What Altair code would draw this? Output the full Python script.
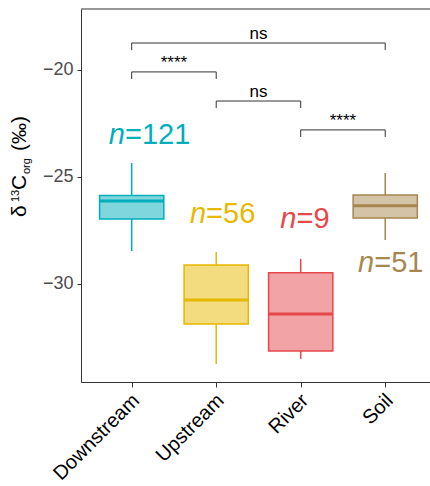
import json
import altair as alt
import pandas as pd

# ---- data ----
categories = ["Downstream", "Upstream", "River", "Soil"]
positions = [1, 2, 3, 4]
colors = ["#00AFBB", "#E7B800", "#E5474B", "#A7874F"]
whisker_low = [-28.46, -33.74, -33.50, -27.94]
q1 = [-26.96, -31.87, -33.13, -26.92]
median = [-26.12, -30.75, -31.40, -26.34]
q3 = [-25.87, -29.11, -29.47, -25.84]
whisker_high = [-24.35, -28.50, -28.83, -24.81]
counts = [121, 56, 9, 51]
n_label_x = [0.92, 1.88, 2.95, 3.87]
n_label_y = [-23.46, -27.15, -27.38, -29.44]

bracket_from = [1, 1, 2, 3]
bracket_to = [4, 2, 3, 4]
bracket_y = [-18.74, -20.09, -21.45, -22.80]
bracket_label = ["ns", "****", "ns", "****"]

y_ticks = [-30, -25, -20]

# ---- layout ----
W, H = 349, 373
FONT = "Liberation Sans"
half_box = 0.38
tip = 0.33

x_scale = alt.Scale(domain=[0.4, 4.53], nice=False, zero=False)
y_scale = alt.Scale(domain=[-34.58, -17.15], nice=False, zero=False)

x_axis = alt.Axis(
    values=positions,
    labelExpr=json.dumps(categories) + "[datum.value - 1]",
    labelAngle=-45, labelAlign="right", labelBaseline="top",
    labelFontSize=20, labelColor="black", labelPadding=3, labelOffset=-3,
    tickSize=5, tickColor="#333333", domainColor="#333333",
    grid=False, title=None,
)
y_axis = alt.Axis(
    values=y_ticks, labelFontSize=18, labelColor="#4D4D4D", labelPadding=4,
    tickSize=4, tickColor="#333333", domainColor="#333333",
    grid=False, title=None,
)


def X(field):
    return alt.X(field, type="quantitative", scale=x_scale, axis=x_axis, title=None)


def X2(field):
    return alt.X2(field)


def Y(field):
    return alt.Y(field, type="quantitative", scale=y_scale, axis=y_axis, title=None)


color_scale = alt.Scale(domain=categories, range=colors)
col = alt.Color("cat:N", scale=color_scale, legend=None)
fill = alt.Fill("cat:N", scale=color_scale, legend=None)
stroke = alt.Stroke("cat:N", scale=color_scale, legend=None)

box_df = pd.DataFrame({
    "cat": categories, "pos": positions, "lo": whisker_low, "q1": q1,
    "med": median, "q3": q3, "hi": whisker_high,
    "n": [f"={c}" for c in counts], "nx": n_label_x, "ny": n_label_y,
})
base = alt.Chart(box_df).transform_calculate(
    left=f"datum.pos - {half_box}", right=f"datum.pos + {half_box}"
)

upper = base.mark_rule(strokeWidth=1.5).encode(x=X("pos"), y=Y("q3"), y2=alt.Y2("hi"), color=col)
lower = base.mark_rule(strokeWidth=1.5).encode(x=X("pos"), y=Y("lo"), y2=alt.Y2("q1"), color=col)
box = base.mark_bar(fillOpacity=0.5, strokeWidth=1.5).encode(
    x=X("left"), x2=X2("right"), y=Y("q1"), y2=alt.Y2("q3"), fill=fill, stroke=stroke
)
med = base.mark_rule(strokeWidth=3).encode(x=X("left"), x2=X2("right"), y=Y("med"), color=col)

n_italic = base.mark_text(text="n", fontStyle="italic", fontSize=29, align="right",
                          baseline="alphabetic", font=FONT).encode(
    x=X("nx"), y=Y("ny"), color=col)
n_rest = base.mark_text(fontSize=29, align="left", baseline="alphabetic", font=FONT).encode(
    x=X("nx"), y=Y("ny"), text="n:N", color=col)

br_df = pd.DataFrame({"x1": bracket_from, "x2": bracket_to, "y": bracket_y, "label": bracket_label})
br = alt.Chart(br_df).transform_calculate(
    ytip=f"datum.y - {tip}", xm="(datum.x1 + datum.x2) / 2"
)
br_h = br.mark_rule(color="#333333", strokeWidth=1).encode(x=X("x1"), x2=X2("x2"), y=Y("y"))
br_l = br.mark_rule(color="#333333", strokeWidth=1).encode(x=X("x1"), y=Y("ytip"), y2=alt.Y2("y"))
br_r = br.mark_rule(color="#333333", strokeWidth=1).encode(x=X("x2"), y=Y("ytip"), y2=alt.Y2("y"))
br_t = br.mark_text(fontSize=17, baseline="alphabetic", dy=-4, color="black", font=FONT).encode(
    x=X("xm"), y=Y("y"), text="label:N")

one = alt.Chart(pd.DataFrame({"k": [0]}))
top_line = one.mark_rule(color="#333333", strokeWidth=1).encode(
    x=alt.value(0), x2=alt.value(W), y=alt.value(0))

# y-axis title: δ13C_org (‰) built from pieces
title_pieces = [
    ("δ", -55, 208, 21),
    ("13", -62, 193, 11),
    ("C", -55, 181, 21),
    ("org", -51, 165, 11),
    ("(‰)", -55, 142, 21),
]
title_layers = [
    one.mark_text(text=t, angle=270, align="left", baseline="alphabetic", fontSize=s,
                  color="black", font=FONT).encode(x=alt.value(px), y=alt.value(py))
    for t, px, py, s in title_pieces
]

chart = alt.layer(
    upper, lower, box, med, n_italic, n_rest, br_h, br_l, br_r, br_t, top_line, *title_layers
).properties(
    width=W, height=H,
    autosize=alt.AutoSizeParams(type="none"),
    padding={"left": 81, "top": 9, "right": 0, "bottom": 104},
).configure(font=FONT).configure_view(strokeWidth=0)

chart.save("out.html", embed_options={"renderer": "svg", "actions": False})
